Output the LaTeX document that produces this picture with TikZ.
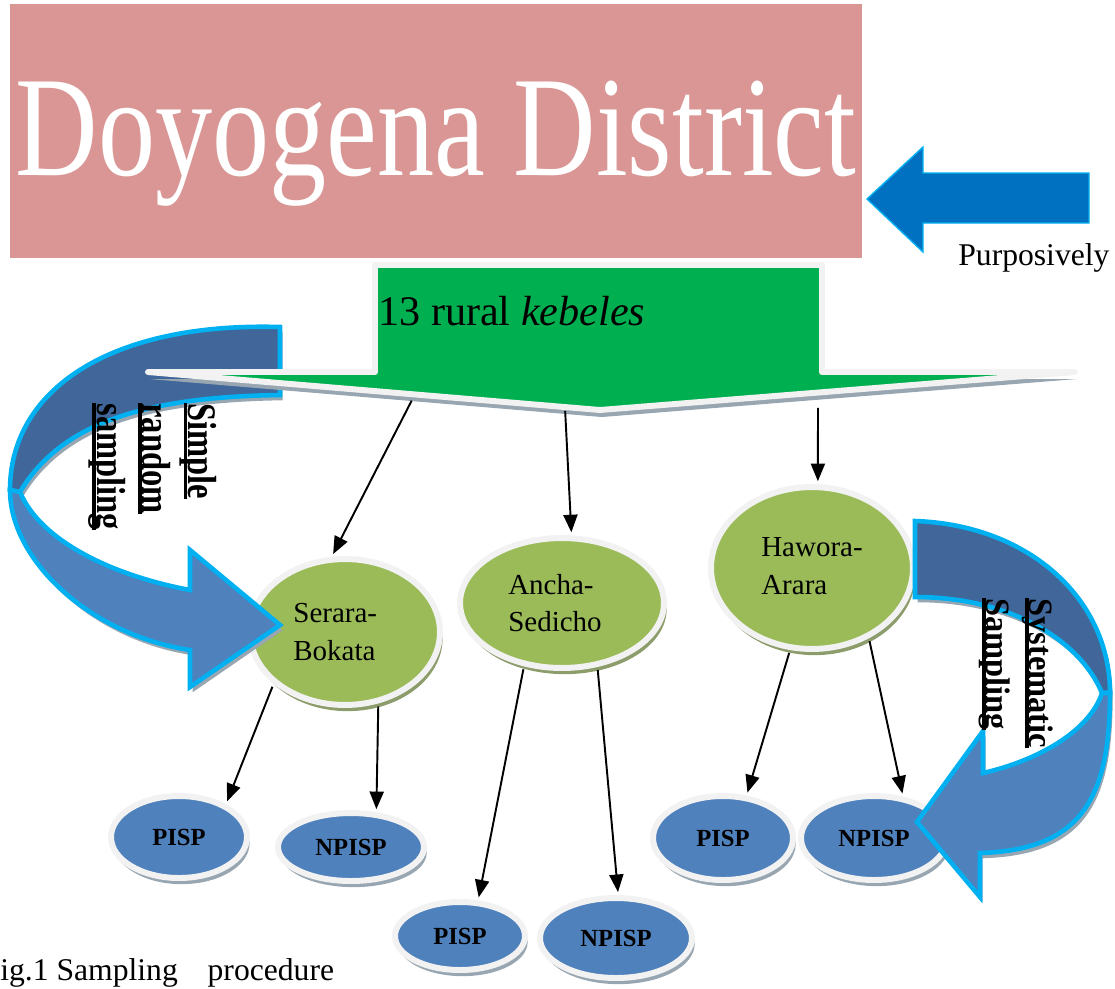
\documentclass[tikz,border=0pt]{standalone}
\usepackage{fontspec}
\setmainfont{Liberation Serif}
\usepackage{graphicx}
\usetikzlibrary{arrows.meta,shapes.geometric,shadows}

\definecolor{boxpink}{HTML}{D99694}
\definecolor{kebelegreen}{HTML}{00B050}
\definecolor{sitegreen}{HTML}{9BBB59}
\definecolor{farmblue}{HTML}{4F81BD}
\definecolor{banddark}{HTML}{41679A}
\definecolor{bandlight}{HTML}{4F81BD}
\definecolor{edgecyan}{HTML}{00B0F0}
\definecolor{purpblue}{HTML}{0070C0}
\definecolor{rimgrey}{HTML}{F2F2F2}
\definecolor{shadegrey}{HTML}{98A6B2}
\definecolor{shadeolive}{HTML}{8C9C6A}

% underlined, stretched word for the rotated labels
\newcommand{\ulword}[2]{\setbox0=\hbox{\scalebox{1}[#1]{#2}}\rlap{\rule[-2.8pt]{\wd0}{2.2pt}}\box0}

\begin{document}
\begin{tikzpicture}[x=0.02cm, y=-0.02cm,
  site/.style={ellipse, draw=rimgrey, line width=3.4pt, fill=sitegreen, inner sep=0pt,
    align=left, font=\fontsize{16.5}{21.5}\selectfont,
    drop shadow={shadow xshift=1.5pt, shadow yshift=-3.5pt, fill=shadeolive, opacity=1}},
  farm/.style={ellipse, draw=rimgrey, line width=3.4pt, fill=farmblue, inner sep=0pt,
    font=\fontsize{14}{16}\selectfont\bfseries,
    drop shadow={shadow xshift=1.5pt, shadow yshift=-3.5pt, fill=shadegrey, opacity=1}},
  band/.style={draw=edgecyan, line width=2.6pt,
    drop shadow={shadow xshift=1.5pt, shadow yshift=-3pt, fill=shadegrey, opacity=1}},
  link/.style={-{Triangle[length=10pt,width=8pt]}, line width=1.1pt,
    shorten <=1.7pt, shorten >=1.7pt}]
  \useasboundingbox (0,0) rectangle (1115,988);

  % District box
  \fill[boxpink] (10,4) rectangle (862,258);
  \node[anchor=base, inner sep=0pt, text=white, font=\fontsize{65}{70}\selectfont] (district)
    at (436,175) {\scalebox{1}[1.25]{Doyogena District}};

  % Purposive selection arrow
  \draw[draw=edgecyan, line width=0.8pt, fill=purpblue]
    (1089,173) -- (923,173) -- (923,147) -- (867,199) -- (923,252) -- (923,223) -- (1089,223) -- cycle;
  \node[anchor=base west, inner sep=0pt, font=\fontsize{18}{20}\selectfont] (purp)
    at (958,265) {Purposively};

  % Kebeles
  \node[site, minimum width=3.8cm, minimum height=2.92cm] (ser) at (345,632)
    {Serara-\\Bokata\hspace*{12pt}};
  \node[site, minimum width=4.08cm, minimum height=2.6cm] (anc) at (562,603)
    {Ancha-\\Sedicho\hspace*{8pt}};
  \node[site, minimum width=4.04cm, minimum height=3.24cm] (haw) at (812,568)
    {\raisebox{5pt}{\begin{tabular}{@{}l@{}}Hawora-\\Arara\end{tabular}}};

  % Farmer groups
  \node[farm, minimum width=2.72cm, minimum height=1.64cm] (pl) at (179,837) {PISP};
  \node[farm, minimum width=2.92cm, minimum height=1.36cm] (nl) at (351,847) {NPISP};
  \node[farm, minimum width=2.6cm, minimum height=1.36cm] (pm) at (460,936) {PISP};
  \node[farm, minimum width=3.04cm, minimum height=1.6cm] (nm) at (616,938) {NPISP};
  \node[farm, minimum width=2.8cm, minimum height=1.68cm] (pr) at (723,838) {PISP};
  \node[farm, minimum width=2.92cm, minimum height=1.68cm] (nr) at (874,838) {NPISP};

  % Simple random sampling arrow
  \draw[band, fill=banddark] (280,327) .. controls (110,322) and (10,390) .. (10,490)
    -- (20,492) .. controls (60,425) and (140,397) .. (280,395) -- cycle;
  \draw[band, fill=bandlight] (10,490) .. controls (10,560) and (90,635) .. (190,650)
    -- (190,687) -- (280,625) -- (190,550) -- (190,590)
    .. controls (110,575) and (40,540) .. (20,492) -- cycle;
  \node[rotate=-90, anchor=north west, inner sep=0pt, align=left,
    font=\fontsize{18.5}{26}\selectfont\bfseries] (srs) at (217,403)
    {\ulword{1.25}{Simple}\\\ulword{1.25}{random}\\\ulword{1.25}{sampling}};

  % Systematic sampling arrow
  \draw[band, fill=banddark] (915,521) .. controls (1030,525) and (1110,600) .. (1110,693)
    -- (1102,693) .. controls (1080,640) and (1010,597) .. (915,597) -- cycle;
  \draw[band, fill=bandlight] (1110,693) .. controls (1110,800) and (1080,850) .. (980,853)
    -- (980,897) -- (917,822) -- (983,731) -- (983,773)
    .. controls (1040,760) and (1090,730) .. (1102,693) -- cycle;
  \node[rotate=-90, anchor=north west, inner sep=0pt, align=left,
    font=\fontsize{18.5}{24.5}\selectfont\bfseries] (sys) at (1054,598)
    {\ulword{1.05}{Systematic}\\\ulword{1.05}{Sampling}};

  % 13 rural kebeles arrow
  \draw[draw=rimgrey, line width=3.4pt, line join=round, fill=kebelegreen,
    drop shadow={shadow xshift=1pt, shadow yshift=-4pt, fill=shadegrey, opacity=1}]
    (375,265) -- (822,265) -- (822,372) -- (1075,372) -- (600,410) -- (148,372) -- (375,372) -- cycle;
  \node[anchor=base west, inner sep=0pt, font=\fontsize{24}{26}\selectfont] (keb)
    at (378,325) {13 rural \textit{kebeles}};

  % Connectors
  \coordinate (k1) at (413,398);
  \coordinate (k2) at (565,408);
  \coordinate (k3) at (818,405);
  \draw[link] (k1) -- (ser.100);
  \draw[link] (k2) -- (anc.82);
  \draw[link] (k3) -- (haw.86);
  \draw[link] (ser.216) -- (pl.35);
  \draw[link] (ser.-65) -- (nl.54);
  \draw[link] (anc.239) -- (pm.63);
  \draw[link] (anc.-61) -- (nm.87);
  \draw[link] (haw.-105) -- (pr.61);
  \draw[link] (haw.-51) -- (nr.55);

  % Caption
  \node[anchor=base west, inner sep=0pt, font=\fontsize{18}{20}\selectfont] (cap)
    at (0,980) {ig.1 Sampling\hspace{17pt}procedure};
\end{tikzpicture}
\end{document}
